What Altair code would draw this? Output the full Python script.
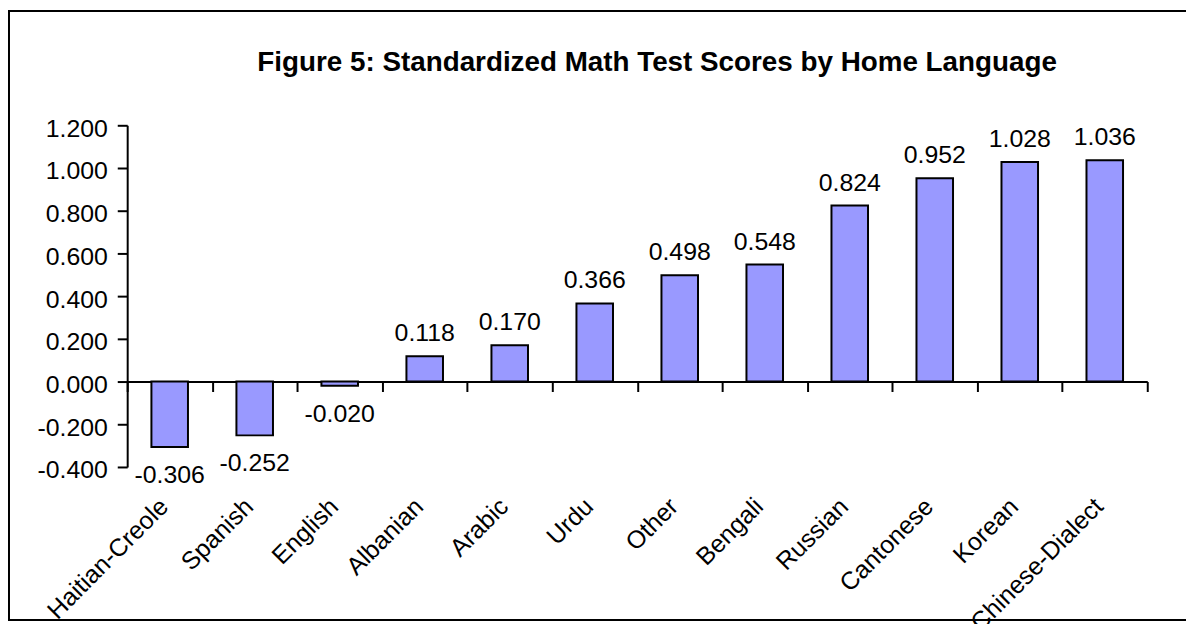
import altair as alt
import pandas as pd

languages = ["Haitian-Creole", "Spanish", "English", "Albanian", "Arabic", "Urdu",
             "Other", "Bengali", "Russian", "Cantonese", "Korean", "Chinese-Dialect"]
scores = [-0.306, -0.252, -0.020, 0.118, 0.170, 0.366, 0.498, 0.548, 0.824, 0.952, 1.028, 1.036]
y_ticks = [-0.4, -0.2, 0.0, 0.2, 0.4, 0.6, 0.8, 1.0, 1.2]
title_text = "Figure 5: Standardized Math Test Scores by Home Language"

df = pd.DataFrame({
    "Language": languages,
    "Score": scores,
    "Label": [f"{v:.3f}" for v in scores],
})

FONT = "Liberation Sans"
W, H = 1027, 344
PAD = {"left": 120, "top": 116, "right": 39, "bottom": 156}

yscale = alt.Scale(domain=[-0.4, 1.2], nice=False, zero=False)
xscale = alt.Scale(paddingInner=0, paddingOuter=0)

yaxis = alt.Axis(title=None, values=y_ticks, format=".3f",
                 labelExpr="replace(format(datum.value, '.3f'), '\u2212', '-')",
                 labelFont=FONT, labelFontSize=25, labelColor="black",
                 labelPadding=10, labelOffset=3, domainColor="black", domainWidth=2,
                 tickColor="black", tickWidth=2, tickSize=10, grid=False)

base = alt.Chart(df)

bars = base.mark_bar(color="#9999FF", stroke="black", strokeWidth=2,
                     width=alt.RelativeBandSize(0.43)).encode(
    x=alt.X("Language:N", sort=None, scale=xscale,
            axis=alt.Axis(orient="bottom", offset=-86, title=None, labels=False,
                          domain=True, domainColor="black", domainWidth=2,
                          ticks=True, tickColor="black", tickWidth=2, tickSize=10,
                          tickBand="extent", grid=False)),
    y=alt.Y("Score:Q", scale=yscale, axis=yaxis),
)

pos_labels = base.transform_filter("datum.Score >= 0").mark_text(
    font=FONT, fontSize=25, color="black", baseline="alphabetic", dy=-15
).encode(
    x=alt.X("Language:N", sort=None, scale=xscale,
            axis=alt.Axis(orient="bottom", offset=0, title=None, domain=False,
                          ticks=False, tickSize=0, labelAngle=315, labelAlign="right",
                          labelBaseline="alphabetic", labelPadding=41, labelFont=FONT,
                          labelFontSize=25, labelColor="black", grid=False,
                          labelOverlap=False)),
    y=alt.Y("Score:Q", scale=yscale, axis=yaxis),
    text="Label:N",
)

neg_labels = base.transform_filter("datum.Score < 0").mark_text(
    font=FONT, fontSize=25, color="black", baseline="top", dy=16
).encode(
    x=alt.X("Language:N", sort=None, scale=xscale, axis=None),
    y=alt.Y("Score:Q", scale=yscale, axis=yaxis),
    text="Label:N",
)

border = alt.Chart(alt.Data(values=[{}])).mark_rect(
    fill=None, stroke="black", strokeWidth=2
).encode(
    x=alt.value(-119), x2=alt.value(1075),
    y=alt.value(-115), y2=alt.value(498),
)

chart = alt.layer(bars, pos_labels, neg_labels, border).resolve_axis(
    x="independent"
).properties(
    width=W, height=H,
    autosize=alt.AutoSizeParams(type="none"),
    padding=PAD,
    title=alt.TitleParams(title_text, font=FONT, fontSize=28, fontWeight="bold",
                          color="black", anchor="middle", dx=20, offset=0,
                          baseline="alphabetic", dy=89),
    background="white",
).configure_view(stroke=None)

chart.save("out.html", embed_options={"renderer": "svg", "actions": False})
